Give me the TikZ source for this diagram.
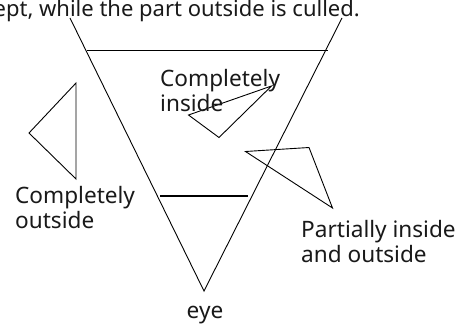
\documentclass[tikz,border=0pt]{standalone}
\usepackage{fontspec}
\setmainfont{Noto Sans}
\begin{document}
\begin{tikzpicture}[x=1pt,y=-1pt,
  lbl/.style={font=\fontsize{22.6}{25}\selectfont, inner sep=0pt, align=left, anchor=base west, text=black!90},
  thin/.style={draw=black, line width=0.9pt, line join=miter},
  thickln/.style={draw=black, line width=2.2pt}]
\useasboundingbox (0,0) rectangle (455,326);
\clip (0,0) rectangle (455,326);
% caption (cut off at the picture's edge)
\node[lbl, font=\fontsize{22}{25}\selectfont, anchor=base east] (cap) at (360,17) {kept, while the part outside is culled.};
% frustum
\coordinate (fl) at (70,18);
\coordinate (fr) at (342,18);
\coordinate (eyept) at (204,291);
\draw[thin] (fl) -- (eyept) -- (fr);
\coordinate (nl) at (86.5,50.7);
\coordinate (nr) at (328,50.7);
\draw[thin] (nl) -- (nr);
\coordinate (pl) at (160,195.7);
\coordinate (pr) at (247.5,195.7);
\draw[thickln] (pl) -- (pr);
% outside triangle
\coordinate (oa) at (76,83);
\coordinate (ob) at (29,133);
\coordinate (oc) at (76,179);
\draw[thin] (oa) -- (ob) -- (oc) -- cycle;
% inside triangle
\coordinate (ia) at (188.5,115);
\coordinate (ib) at (271.5,86);
\coordinate (ic) at (219,137.5);
\draw[thin] (ia) -- (ib) -- (ic) -- cycle;
% partial triangle
\coordinate (qa) at (245.5,151.5);
\coordinate (qb) at (309,147.5);
\coordinate (qc) at (332.5,208);
\draw[thin] (qa) -- (qb) -- (qc) -- cycle;
% labels (base = baseline of the last line)
\node[lbl] (lin) at (160,112) {Completely\\inside};
\node[lbl] (lout) at (15,228.5) {Completely\\outside};
\node[lbl] (lpart) at (301,262) {Partially inside\\and outside};
\node[lbl, anchor=base] (leye) at (205,318) {eye};
\end{tikzpicture}
\end{document}
